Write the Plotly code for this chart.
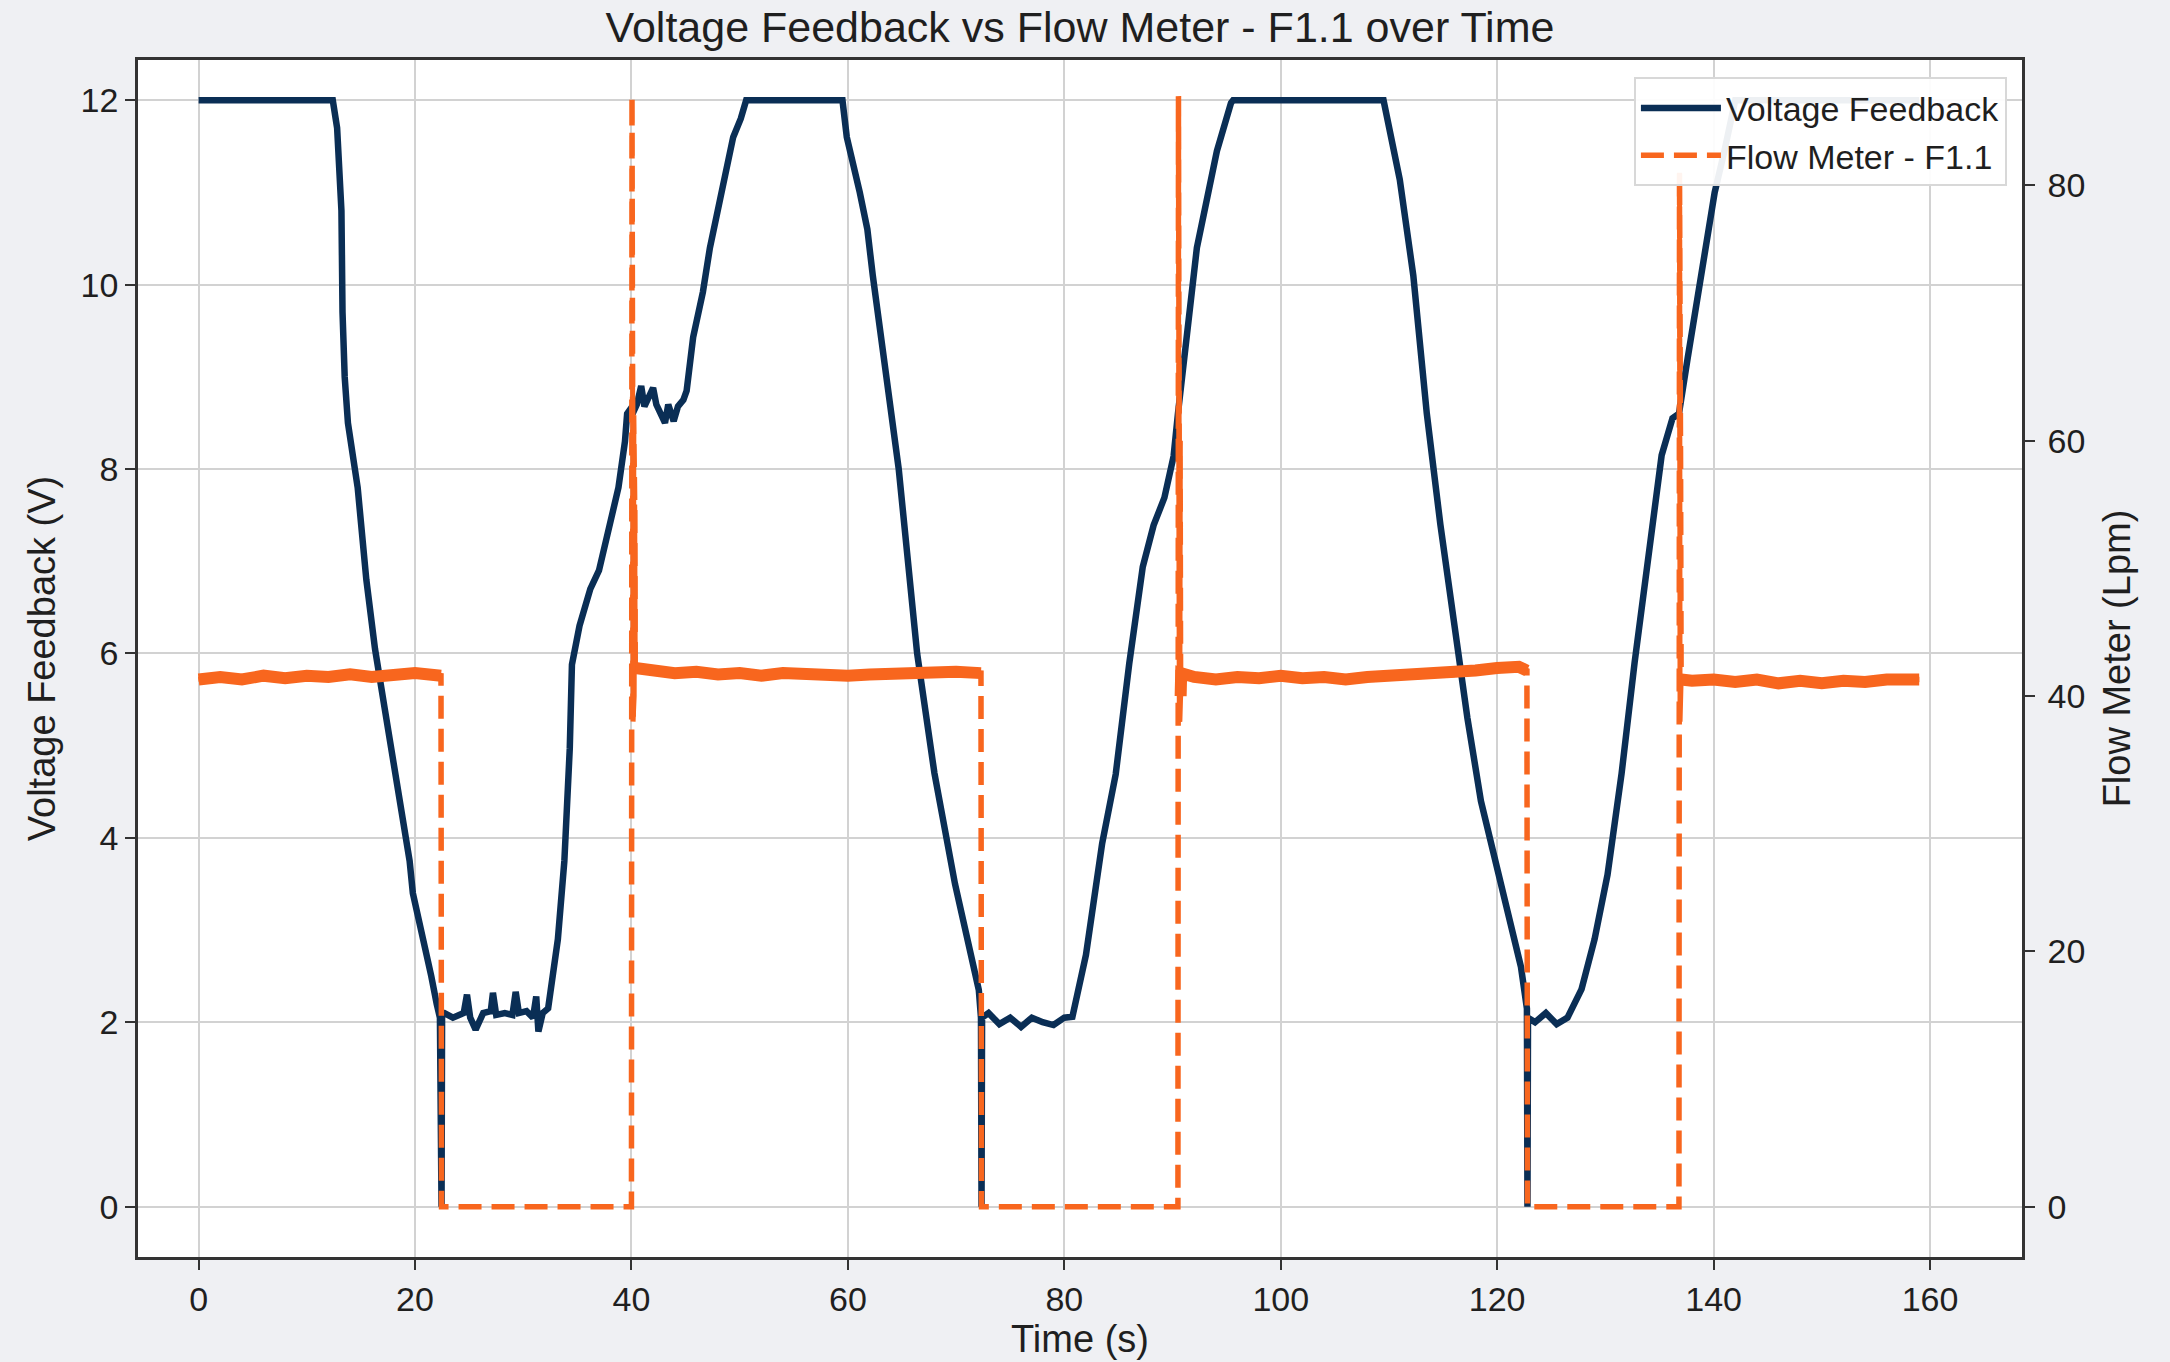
import plotly.graph_objects as go

# ---------------- data ----------------
# Voltage Feedback (V) over time (s)
volt_t = [0.0, 12.4, 12.8, 13.2, 13.3, 13.5, 13.8, 14.7, 15.5, 16.3, 17.2, 18.2, 18.8,
          19.5, 19.8, 20.8, 21.5, 22.0, 22.3, 22.45, 22.47, 22.5,
          22.7, 23.5, 24.5, 24.8, 25.1, 25.6, 26.3, 27.0, 27.2, 27.5, 28.3, 29.0, 29.3,
          29.6, 30.3, 30.9, 31.2, 31.4, 31.8, 32.3,
          33.2, 33.8, 34.3, 34.5, 35.2, 36.2, 37.0, 37.8, 38.8, 39.4, 39.6, 39.9, 40.1,
          40.5, 40.9, 41.2, 42.0, 42.3, 43.1, 43.4, 43.9, 44.3, 44.8,
          45.1, 45.7, 46.6, 47.25, 48.2, 49.4, 50.1, 50.6,
          59.5, 59.9, 61.1, 61.8, 62.3, 64.7, 66.4, 68.0, 69.9, 71.1, 72.1, 72.3, 72.35, 72.4,
          73.0, 74.0, 75.0, 76.0, 77.0, 78.0, 79.0, 80.0, 80.75,
          82.0, 83.5, 84.75, 86.0, 87.25, 88.25, 89.25, 90.1, 90.5, 92.25, 94.1, 95.4, 95.6,
          109.5, 110.0, 111.0, 112.25, 113.5, 114.75, 116.0, 117.25, 118.5, 119.75, 121.0,
          122.2, 122.75, 122.8, 122.85,
          123.5, 124.5, 125.5, 126.5,
          127.8, 129.0, 130.2, 131.5, 132.7, 134.0, 135.2, 136.2, 136.8, 137.6, 138.9,
          140.1, 141.0, 142.0, 159.0]
volt_v = [12.0, 12.0, 11.7, 10.8, 9.7, 9.0, 8.5, 7.8, 6.8, 6.05, 5.4, 4.65, 4.3,
          3.75, 3.4, 2.9, 2.5, 2.2, 2.05, 0.0, 0.0, 2.1,
          2.1, 2.05, 2.1, 2.3, 2.05, 1.92, 2.1, 2.12, 2.32, 2.08, 2.1, 2.08, 2.33,
          2.1, 2.12, 2.05, 2.28, 1.9, 2.1, 2.15,
          2.9, 3.75, 4.97, 5.88, 6.3, 6.7, 6.9, 7.3, 7.8, 8.3, 8.6, 8.65, 8.6,
          8.7, 8.9, 8.68, 8.88, 8.7, 8.5, 8.7, 8.52, 8.68, 8.75,
          8.85, 9.43, 9.92, 10.4, 10.93, 11.6, 11.8, 12.0,
          12.0, 11.6, 11.0, 10.6, 10.1, 8.0, 6.0, 4.7, 3.5, 2.9, 2.35, 2.05, 0.0, 2.05,
          2.1, 1.98, 2.05, 1.95, 2.05, 2.0, 1.97, 2.05, 2.06,
          2.73, 3.94, 4.69, 5.89, 6.94, 7.39, 7.69, 8.14, 8.6, 10.4, 11.45, 11.97, 12.0,
          12.0, 11.7, 11.14, 10.1, 8.6, 7.4, 6.35, 5.3, 4.4, 3.8, 3.2,
          2.6, 2.15, 0.0, 2.05,
          2.0, 2.1, 1.98, 2.05,
          2.36, 2.9, 3.6, 4.7, 5.9, 7.1, 8.15, 8.55, 8.6, 9.2, 10.1,
          11.0, 11.45, 12.0, 12.0]

# Flow Meter - F1.1 (Lpm) over time (s)
flow_t = [0.0, 2.0, 4.0, 6.0, 8.0, 10.0, 12.0, 14.0, 16.0, 18.0, 20.0, 22.4, 22.45,
          40.0, 40.05, 40.1, 40.15, 40.2, 40.25, 40.3, 40.35,
          42.0, 44.0, 46.0, 48.0, 50.0, 52.0, 54.0, 56.0, 58.0, 60.0, 62.0, 64.0, 66.0,
          68.0, 70.0, 72.3, 72.35,
          90.5, 90.55, 90.6, 90.65, 90.7, 90.75, 90.8,
          92.0, 94.0, 96.0, 98.0, 100.0, 102.0, 104.0, 106.0, 108.0, 110.0, 112.0, 114.0,
          116.0, 118.0, 120.0, 122.0, 122.75, 122.8,
          136.8, 136.85, 136.9, 136.95, 137.0,
          138.0, 140.0, 142.0, 144.0, 146.0, 148.0, 150.0, 152.0, 154.0, 156.0, 159.0]
flow_v = [41.3, 41.5, 41.3, 41.6, 41.4, 41.6, 41.5, 41.7, 41.5, 41.7, 41.8, 41.6, 0.0,
          0.0, 87.0, 66.0, 38.0, 62.0, 40.0, 55.0, 42.2,
          42.0, 41.8, 41.9, 41.7, 41.8, 41.6, 41.8, 41.7, 41.8, 41.6, 41.7, 41.8, 41.7,
          41.8, 41.9, 41.8, 0.0,
          0.0, 87.0, 66.0, 38.0, 60.0, 40.0, 41.8,
          41.5, 41.3, 41.5, 41.4, 41.6, 41.4, 41.5, 41.3, 41.5, 41.6, 41.5, 41.6,
          41.7, 42.0, 42.2, 42.3, 42.0, 0.0,
          0.0, 81.0, 38.0, 58.0, 41.3,
          41.2, 41.3, 41.1, 41.3, 41.0, 41.2, 41.0, 41.2, 41.1, 41.3, 41.3]

x_ticks = [0, 20, 40, 60, 80, 100, 120, 140, 160]
y_ticks = [0, 2, 4, 6, 8, 10, 12]
y2_ticks = [0, 20, 40, 60, 80]

# ---------------- styling ----------------
NAVY = "#0A2E55"
ORANGE = "#F8661E"
FONT = "Liberation Sans"
TXT = "#1f1f1f"
FRAME = "#333333"
GRID = "#d2d2d2"

# Dense sampling makes the dashed line look solid wherever the signal jitters:
# settling oscillations after each surge look like a thin solid stroke and the
# noisy plateaus like a thick solid band; the big jumps stay visibly dashed.
flow_settle = [v if 30 < v < 85 else None for v in flow_v]
flow_band = [v if 39 <= v <= 43.5 else None for v in flow_v]

fig = go.Figure()
fig.add_trace(go.Scatter(x=volt_t, y=volt_v, mode="lines", name="Voltage Feedback",
                         line=dict(color=NAVY, width=6.5), yaxis="y"))
fig.add_trace(go.Scatter(x=flow_t, y=flow_v, mode="lines", name="Flow Meter - F1.1",
                         line=dict(color=ORANGE, width=5.5, dash="23px,10px"),
                         yaxis="y2", legendgroup="flow"))
fig.add_trace(go.Scatter(x=flow_t, y=flow_settle, mode="lines", name="Flow Meter - F1.1",
                         line=dict(color=ORANGE, width=5), yaxis="y2",
                         legendgroup="flow", showlegend=False, connectgaps=False,
                         hoverinfo="skip"))
fig.add_trace(go.Scatter(x=flow_t, y=flow_band, mode="lines", name="Flow Meter - F1.1",
                         line=dict(color=ORANGE, width=12), yaxis="y2",
                         legendgroup="flow", showlegend=False, connectgaps=False,
                         hoverinfo="skip"))

axis_common = dict(showline=True, linecolor=FRAME, linewidth=2.5, ticks="outside",
                   ticklen=10, tickwidth=2, tickcolor=FRAME, zeroline=False,
                   tickfont=dict(family=FONT, size=34, color=TXT), automargin=False)

fig.update_layout(
    width=2170, height=1362,
    margin=dict(l=138, r=148, t=60, b=105),
    paper_bgcolor="#EFF0F3", plot_bgcolor="#FFFFFF",
    font=dict(family=FONT, color=TXT),
    title=dict(text="Voltage Feedback vs Flow Meter - F1.1 over Time",
               x=0.5, xref="paper", xanchor="center",
               y=1 - 27 / 1362, yref="container", yanchor="middle",
               font=dict(family=FONT, size=43, color=TXT)),
    xaxis=dict(range=[-5.6, 168.5], tickvals=x_ticks, mirror=True, showgrid=True,
               gridcolor=GRID, gridwidth=2,
               title=dict(text="Time (s)", standoff=8,
                          font=dict(family=FONT, size=38, color=TXT)),
               **axis_common),
    yaxis=dict(range=[-0.546, 12.437], tickvals=y_ticks, mirror=True, showgrid=True,
               gridcolor=GRID, gridwidth=2,
               title=dict(text="Voltage Feedback (V)", standoff=14,
                          font=dict(family=FONT, size=38, color=TXT)),
               **axis_common),
    yaxis2=dict(range=[-3.94, 89.83], tickvals=y2_ticks, overlaying="y", side="right",
                showgrid=False, ticklabelstandoff=6,
                title=dict(text="Flow Meter (Lpm)", standoff=20,
                           font=dict(family=FONT, size=38, color=TXT)),
                **axis_common),
    legend=dict(x=0.992, y=0.9854, xanchor="right", yanchor="top",
                bgcolor="rgba(255,255,255,0.93)", bordercolor="#d8d8d8", borderwidth=2,
                font=dict(family=FONT, size=34, color=TXT), itemwidth=80,
                tracegroupgap=0),
    showlegend=True,
)

fig.write_html("out.html")
